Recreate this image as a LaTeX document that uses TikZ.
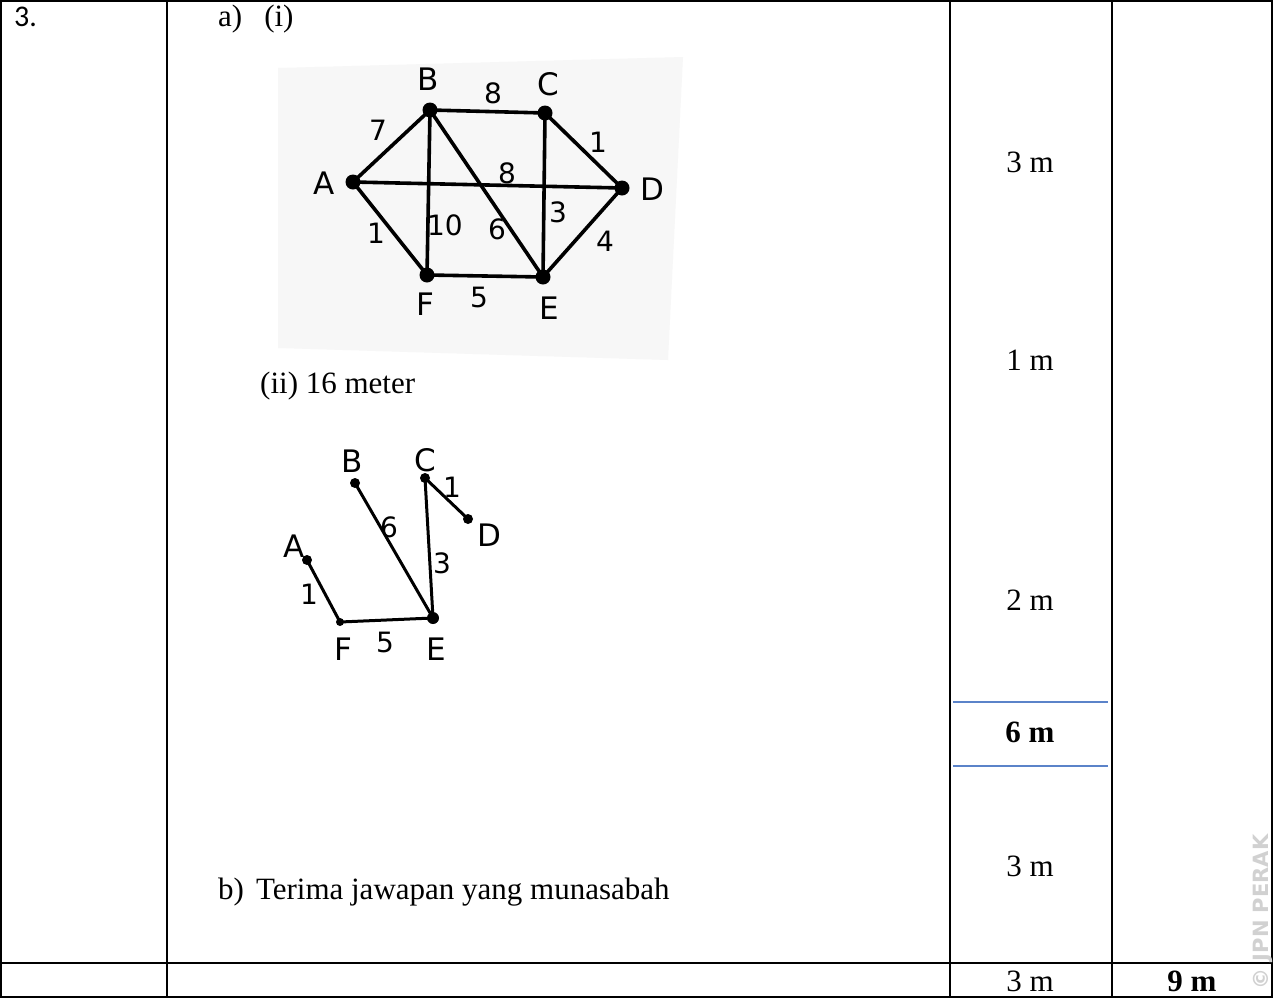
\documentclass[tikz,border=0pt]{standalone}
\usepackage{fontspec}
\setmainfont{Liberation Serif}
\newfontfamily\cellsans{Carlito}
\newfontfamily\handfont{DejaVu Sans}
\newfontfamily\wmfont{DejaVu Sans}
\definecolor{rowblue}{HTML}{5B83C9}
\begin{document}
\begin{tikzpicture}[x=1pt,y=-1pt,
  tline/.style={line width=2pt,black},
  bline/.style={line width=1.3pt,rowblue},
  gedge/.style={line width=3.6pt,black},
  gedgeb/.style={line width=3pt,black},
  gdot/.style={circle,fill=black,inner sep=0pt,minimum size=15pt},
  gdotb/.style={circle,fill=black,inner sep=0pt,minimum size=10pt},
  glab/.style={inner sep=0pt,font=\handfont\fontsize{31}{34}\selectfont},
  elab/.style={inner sep=0pt,font=\handfont\fontsize{28}{31}\selectfont},
  ctext/.style={inner sep=0pt,font=\fontsize{31}{36}\selectfont},
  btext/.style={inner sep=0pt,font=\fontsize{31}{36}\selectfont\bfseries}]
\useasboundingbox (0,0) rectangle (1275,999);
\fill[white] (0,0) rectangle (1275,999);
% table
\draw[tline] (1,1) rectangle (1272,997);
\draw[tline] (167,1) -- (167,997);
\draw[tline] (950,1) -- (950,997);
\draw[tline] (1112,1) -- (1112,997);
\draw[tline] (1,963) -- (1272,963);
\draw[bline] (953,702) -- (1108,702);
\draw[bline] (953,766) -- (1108,766);
% left texts
\node[inner sep=0pt,anchor=base west,font=\cellsans\fontsize{30}{34}\selectfont] (num) at (14,26) {3.};
\node[ctext,anchor=base west] (ai) at (218,26) {a)\hspace{22pt}(i)};
\node[ctext,anchor=base west] (aii) at (260,393) {(ii) 16 meter};
\node[ctext,anchor=base west] (b) at (218,899) {b)\hspace{12pt}Terima jawapan yang munasabah};
% right column
\node[ctext,anchor=base] (m1) at (1030,172) {3 m};
\node[ctext,anchor=base] (m2) at (1030,370) {1 m};
\node[ctext,anchor=base] (m3) at (1030,610) {2 m};
\node[btext,anchor=base] (m4) at (1030,742) {6 m};
\node[ctext,anchor=base] (m5) at (1030,876) {3 m};
\node[ctext,anchor=base] (m6) at (1030,991) {3 m};
\node[btext,anchor=base] (m7) at (1192,991) {9 m};
% watermark
\node[rotate=90,inner sep=0pt,text=black!18,font=\wmfont\bfseries\fontsize{21}{24}\selectfont] (wm) at (1263,912) {\copyright\ JPN PERAK};
% graph 1 background
\fill[black!3] (278,68) -- (683,57) -- (668,360) -- (278,348) -- cycle;
% graph 1
\node[gdot] (A1) at (353,182) {};
\node[gdot] (B1) at (430,110) {};
\node[gdot] (C1) at (545,113) {};
\node[gdot] (D1) at (622,188) {};
\node[gdot] (E1) at (543,277) {};
\node[gdot] (F1) at (427,275) {};
\draw[gedge] (A1.center) -- (B1.center) -- (C1.center) -- (D1.center) -- (E1.center) -- (F1.center) -- (A1.center);
\draw[gedge] (A1.center) -- (D1.center);
\draw[gedge] (B1.center) -- (F1.center);
\draw[gedge] (B1.center) -- (E1.center);
\draw[gedge] (C1.center) -- (E1.center);
\node[glab] (lA1) at (324,183) {A};
\node[glab] (lB1) at (428,79) {B};
\node[glab] (lC1) at (548,84) {C};
\node[glab] (lD1) at (652,189) {D};
\node[glab] (lE1) at (549,308) {E};
\node[glab] (lF1) at (425,304) {F};
\node[elab] (eBC) at (493,93) {8};
\node[elab] (eAB) at (378,130) {7};
\node[elab] (eCD) at (598,142) {1};
\node[elab] (eAD) at (507,173) {8};
\node[elab] (eAF) at (376,233) {1};
\node[elab] (eBF) at (445,225) {10};
\node[elab] (eBE) at (497,229) {6};
\node[elab] (eCE) at (558,212) {3};
\node[elab] (eDE) at (605,241) {4};
\node[elab] (eFE) at (479,297) {5};
% graph 2
\node[gdotb] (A2) at (307,560) {};
\node[gdotb] (B2) at (355,483) {};
\node[gdotb] (C2) at (425,478) {};
\node[gdotb] (D2) at (468,519) {};
\node[gdotb,minimum size=12pt] (E2) at (433,618) {};
\node[gdotb,minimum size=8pt] (F2) at (340,622) {};
\draw[gedgeb] (A2.center) -- (F2.center) -- (E2.center);
\draw[gedgeb] (B2.center) -- (E2.center);
\draw[gedgeb] (C2.center) -- (E2.center);
\draw[gedgeb] (C2.center) -- (D2.center);
\node[glab] (lA2) at (294,546) {A};
\node[glab] (lB2) at (352,461) {B};
\node[glab] (lC2) at (425,460) {C};
\node[glab] (lD2) at (489,535) {D};
\node[glab] (lE2) at (436,649) {E};
\node[glab] (lF2) at (343,649) {F};
\node[elab] (fCD) at (452,487) {1};
\node[elab] (fBE) at (389,527) {6};
\node[elab] (fCE) at (442,563) {3};
\node[elab] (fAF) at (309,594) {1};
\node[elab] (fFE) at (385,642) {5};
\end{tikzpicture}
\end{document}
